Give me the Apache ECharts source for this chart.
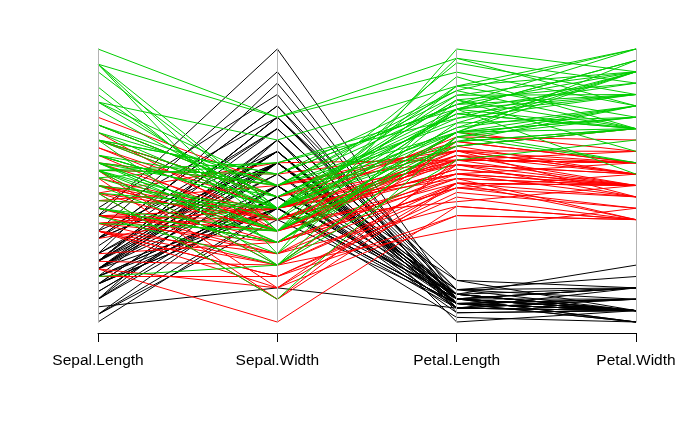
<!DOCTYPE html>
<html>
<head>
<meta charset="utf-8">
<script src="https://cdn.jsdelivr.net/npm/echarts@6/dist/echarts.min.js"></script>
<style>
html, body { margin: 0; padding: 0; background: #fff; }
#main { width: 697px; height: 429px; }
</style>
</head>
<body>
<div id="main"></div>
<script>
// iris measurements, one value per flower (rows 1..150)
var dimNames = ['Sepal.Length', 'Sepal.Width', 'Petal.Length', 'Petal.Width'];
var sepalLength = [
    5.1,4.9,4.7,4.6,5.0,5.4,4.6,5.0,4.4,4.9,5.4,4.8,4.8,4.3,5.8,5.7,5.4,5.1,5.7,5.1,
    5.4,5.1,4.6,5.1,4.8,5.0,5.0,5.2,5.2,4.7,4.8,5.4,5.2,5.5,4.9,5.0,5.5,4.9,4.4,5.1,
    5.0,4.5,4.4,5.0,5.1,4.8,5.1,4.6,5.3,5.0,
    7.0,6.4,6.9,5.5,6.5,5.7,6.3,4.9,6.6,5.2,5.0,5.9,6.0,6.1,5.6,6.7,5.6,5.8,6.2,5.6,
    5.9,6.1,6.3,6.1,6.4,6.6,6.8,6.7,6.0,5.7,5.5,5.5,5.8,6.0,5.4,6.0,6.7,6.3,5.6,5.5,
    5.5,6.1,5.8,5.0,5.6,5.7,5.7,6.2,5.1,5.7,
    6.3,5.8,7.1,6.3,6.5,7.6,4.9,7.3,6.7,7.2,6.5,6.4,6.8,5.7,5.8,6.4,6.5,7.7,7.7,6.0,
    6.9,5.6,7.7,6.3,6.7,7.2,6.2,6.1,6.4,7.2,7.4,7.9,6.4,6.3,6.1,7.7,6.3,6.4,6.0,6.9,
    6.7,6.9,5.8,6.8,6.7,6.7,6.3,6.5,6.2,5.9
];
var sepalWidth = [
    3.5,3.0,3.2,3.1,3.6,3.9,3.4,3.4,2.9,3.1,3.7,3.4,3.0,3.0,4.0,4.4,3.9,3.5,3.8,3.8,
    3.4,3.7,3.6,3.3,3.4,3.0,3.4,3.5,3.4,3.2,3.1,3.4,4.1,4.2,3.1,3.2,3.5,3.6,3.0,3.4,
    3.5,2.3,3.2,3.5,3.8,3.0,3.8,3.2,3.7,3.3,
    3.2,3.2,3.1,2.3,2.8,2.8,3.3,2.4,2.9,2.7,2.0,3.0,2.2,2.9,2.9,3.1,3.0,2.7,2.2,2.5,
    3.2,2.8,2.5,2.8,2.9,3.0,2.8,3.0,2.9,2.6,2.4,2.4,2.7,2.7,3.0,3.4,3.1,2.3,3.0,2.5,
    2.6,3.0,2.6,2.3,2.7,3.0,2.9,2.9,2.5,2.8,
    3.3,2.7,3.0,2.9,3.0,3.0,2.5,2.9,2.5,3.6,3.2,2.7,3.0,2.5,2.8,3.2,3.0,3.8,2.6,2.2,
    3.2,2.8,2.8,2.7,3.3,3.2,2.8,3.0,2.8,3.0,2.8,3.8,2.8,2.8,2.6,3.0,3.4,3.1,3.0,3.1,
    3.1,3.1,2.7,3.2,3.3,3.0,2.5,3.0,3.4,3.0
];
var petalLength = [
    1.4,1.4,1.3,1.5,1.4,1.7,1.4,1.5,1.4,1.5,1.5,1.6,1.4,1.1,1.2,1.5,1.3,1.4,1.7,1.5,
    1.7,1.5,1.0,1.7,1.9,1.6,1.6,1.5,1.4,1.6,1.6,1.5,1.5,1.4,1.5,1.2,1.3,1.4,1.3,1.5,
    1.3,1.3,1.3,1.6,1.9,1.4,1.6,1.4,1.5,1.4,
    4.7,4.5,4.9,4.0,4.6,4.5,4.7,3.3,4.6,3.9,3.5,4.2,4.0,4.7,3.6,4.4,4.5,4.1,4.5,3.9,
    4.8,4.0,4.9,4.7,4.3,4.4,4.8,5.0,4.5,3.5,3.8,3.7,3.9,5.1,4.5,4.5,4.7,4.4,4.1,4.0,
    4.4,4.6,4.0,3.3,4.2,4.2,4.2,4.3,3.0,4.1,
    6.0,5.1,5.9,5.6,5.8,6.6,4.5,6.3,5.8,6.1,5.1,5.3,5.5,5.0,5.1,5.3,5.5,6.7,6.9,5.0,
    5.7,4.9,6.7,4.9,5.7,6.0,4.8,4.9,5.6,5.8,6.1,6.4,5.6,5.1,5.6,6.1,5.6,5.5,4.8,5.4,
    5.6,5.1,5.1,5.9,5.7,5.2,5.0,5.2,5.4,5.1
];
var petalWidth = [
    0.2,0.2,0.2,0.2,0.2,0.4,0.3,0.2,0.2,0.1,0.2,0.2,0.1,0.1,0.2,0.4,0.4,0.3,0.3,0.3,
    0.2,0.4,0.2,0.5,0.2,0.2,0.4,0.2,0.2,0.2,0.2,0.4,0.1,0.2,0.2,0.2,0.2,0.1,0.2,0.2,
    0.3,0.3,0.2,0.6,0.4,0.3,0.2,0.2,0.2,0.2,
    1.4,1.5,1.5,1.3,1.5,1.3,1.6,1.0,1.3,1.4,1.0,1.5,1.0,1.4,1.3,1.4,1.5,1.0,1.5,1.1,
    1.8,1.3,1.5,1.2,1.3,1.4,1.4,1.7,1.5,1.0,1.1,1.0,1.2,1.6,1.5,1.6,1.5,1.3,1.3,1.3,
    1.2,1.4,1.2,1.0,1.3,1.2,1.3,1.3,1.1,1.3,
    2.5,1.9,2.1,1.8,2.2,2.1,1.7,1.8,1.8,2.5,2.0,1.9,2.1,2.0,2.4,2.3,1.8,2.2,2.3,1.5,
    2.3,2.0,2.0,1.8,2.1,1.8,1.8,1.8,2.1,1.6,1.9,2.0,2.2,1.5,1.4,2.3,2.4,1.8,1.8,2.1,
    2.4,2.3,1.9,2.3,2.5,2.3,1.9,2.0,2.3,1.8
];
// flowers are listed species by species
var speciesNames = ['setosa', 'versicolor', 'virginica'];
var speciesSize = [50, 50, 50];
var speciesColors = ['#000000', '#ff0000', '#00cd00'];

var columns = [sepalLength, sepalWidth, petalLength, petalWidth];

var chart = echarts.init(document.getElementById('main'), null, { renderer: 'canvas' });

// plain grey verticals, no ticks or labels (like parcoord)
var axisStyle = {
    type: 'value',
    name: '',
    axisLine: { show: true, lineStyle: { color: '#b3b3b3', width: 1 } },
    axisTick: { show: false, length: 0 },
    axisLabel: { show: false, color: 'rgba(0,0,0,0)', formatter: function () { return ''; } },
    splitLine: { show: false }
};

var parallelAxis = [];
for (var d = 0; d < columns.length; d++) {
    parallelAxis.push(echarts.util.merge({
        dim: d,
        min: Math.min.apply(null, columns[d]),
        max: Math.max.apply(null, columns[d])
    }, axisStyle, true));
}

var series = [];
var start = 0;
for (var s = 0; s < speciesNames.length; s++) {
    var rows = [];
    for (var i = start; i < start + speciesSize[s]; i++) {
        rows.push([sepalLength[i], sepalWidth[i], petalLength[i], petalWidth[i]]);
    }
    start += speciesSize[s];
    series.push({
        name: speciesNames[s],
        type: 'parallel',
        silent: true,
        progressive: 0,
        smooth: false,
        lineStyle: { color: speciesColors[s], width: 1, opacity: 1 },
        data: rows
    });
}

var option = {
    animation: false,
    backgroundColor: '#ffffff',
    parallel: {
        left: 98,
        right: 61,
        top: 49,
        bottom: 107,
        layout: 'horizontal',
        parallelAxisDefault: axisStyle
    },
    parallelAxis: parallelAxis,
    // bottom axis carrying the variable names
    grid: { left: 98, right: 61, top: 49, bottom: 96 },
    xAxis: {
        type: 'value',
        min: 1,
        max: 4,
        interval: 1,
        axisLine: { show: true, lineStyle: { color: '#000000', width: 1 } },
        axisTick: { show: true, length: 9, lineStyle: { color: '#000000', width: 1 } },
        splitLine: { show: false },
        axisLabel: {
            margin: 20,
            color: '#000000',
            fontFamily: 'Liberation Sans, Arial, sans-serif',
            fontSize: 15.5,
            formatter: function (v) { return dimNames[v - 1] || ''; }
        }
    },
    yAxis: { type: 'value', min: 0, max: 1, show: false },
    series: series
};
chart.setOption(option);
</script>
</body>
</html>
